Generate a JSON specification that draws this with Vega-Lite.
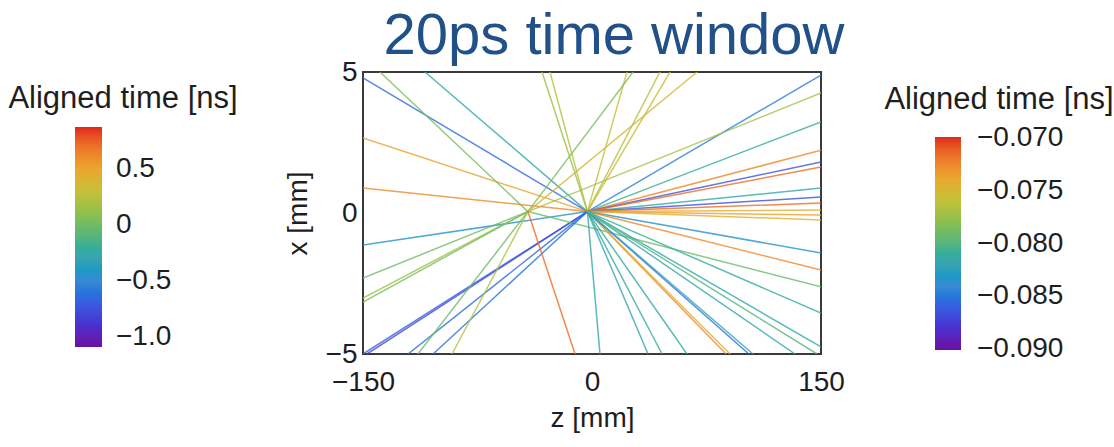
{
  "$schema": "https://vega.github.io/schema/vega-lite/v6.json",
  "width": 458,
  "height": 282,
  "autosize": {"type": "none"},
  "padding": {"left": 363, "top": 72, "right": 293, "bottom": 93},
  "background": "white",
  "config": {
    "view": {"stroke": "#3a3a3a", "strokeWidth": 2},
    "font": "Liberation Sans"
  },
  "title": {
    "text": "20ps time window",
    "fontSize": 58,
    "fontWeight": "normal",
    "color": "#22518a",
    "font": "Liberation Sans",
    "anchor": "middle",
    "dx": 22,
    "offset": 0,
    "dy": 8
  },
  "datasets": {
    "tracks": [
      {"id":1,"z":-3,"x":0.05,"t":-0.0855},{"id":1,"z":-150,"x":4.79,"t":-0.0855},
      {"id":2,"z":-3,"x":0.05,"t":-0.0735},{"id":2,"z":-150,"x":2.66,"t":-0.0735},
      {"id":3,"z":-3,"x":0.05,"t":-0.0725},{"id":3,"z":-150,"x":0.887,"t":-0.0725},
      {"id":4,"z":-3,"x":0.05,"t":-0.0835},{"id":4,"z":-150,"x":-1.135,"t":-0.0835},
      {"id":5,"z":-42,"x":0.05,"t":-0.079},{"id":5,"z":-150,"x":-2.305,"t":-0.079},
      {"id":6,"z":-42,"x":0.05,"t":-0.0775},{"id":6,"z":-150,"x":-3.014,"t":-0.0775},
      {"id":7,"z":-42,"x":0.05,"t":-0.0785},{"id":7,"z":-150,"x":-3.156,"t":-0.0785},
      {"id":8,"z":-3,"x":0.05,"t":-0.086},{"id":8,"z":-150,"x":-5,"t":-0.086},
      {"id":9,"z":-3,"x":0.05,"t":-0.087},{"id":9,"z":-147.4,"x":-5,"t":-0.087},
      {"id":10,"z":-42,"x":0.05,"t":-0.0785},{"id":10,"z":-138.9,"x":5,"t":-0.0785},
      {"id":11,"z":-3,"x":0.05,"t":-0.0815},{"id":11,"z":-109.4,"x":5,"t":-0.0815},
      {"id":12,"z":-3,"x":0.05,"t":-0.0775},{"id":12,"z":-32.75,"x":5,"t":-0.0775},
      {"id":13,"z":-3,"x":0.05,"t":-0.0765},{"id":13,"z":-27.5,"x":5,"t":-0.0765},
      {"id":14,"z":-3,"x":0.05,"t":-0.076},{"id":14,"z":22.9,"x":5,"t":-0.076},
      {"id":15,"z":-42,"x":0.05,"t":-0.0785},{"id":15,"z":26.9,"x":5,"t":-0.0785},
      {"id":16,"z":-3,"x":0.05,"t":-0.0765},{"id":16,"z":44.5,"x":5,"t":-0.0765},
      {"id":17,"z":-3,"x":0.05,"t":-0.0755},{"id":17,"z":51.1,"x":5,"t":-0.0755},
      {"id":18,"z":-42,"x":0.05,"t":-0.075},{"id":18,"z":68.8,"x":5,"t":-0.075},
      {"id":19,"z":-3,"x":0.05,"t":-0.0845},{"id":19,"z":150,"x":4.89,"t":-0.0845},
      {"id":20,"z":-42,"x":0.05,"t":-0.077},{"id":20,"z":150,"x":4.26,"t":-0.077},
      {"id":21,"z":-3,"x":0.05,"t":-0.081},{"id":21,"z":150,"x":3.23,"t":-0.081},
      {"id":22,"z":-3,"x":0.05,"t":-0.0725},{"id":22,"z":150,"x":2.23,"t":-0.0725},
      {"id":23,"z":-3,"x":0.05,"t":-0.0865},{"id":23,"z":150,"x":1.81,"t":-0.0865},
      {"id":24,"z":-3,"x":0.05,"t":-0.0715},{"id":24,"z":150,"x":1.63,"t":-0.0715},
      {"id":25,"z":-3,"x":0.05,"t":-0.0815},{"id":25,"z":150,"x":0.89,"t":-0.0815},
      {"id":26,"z":-3,"x":0.05,"t":-0.0865},{"id":26,"z":150,"x":0.57,"t":-0.0865},
      {"id":27,"z":-3,"x":0.05,"t":-0.0715},{"id":27,"z":150,"x":0.355,"t":-0.0715},
      {"id":28,"z":-3,"x":0.05,"t":-0.074},{"id":28,"z":150,"x":0.106,"t":-0.074},
      {"id":29,"z":-3,"x":0.05,"t":-0.0735},{"id":29,"z":150,"x":-0.071,"t":-0.0735},
      {"id":30,"z":-3,"x":0.05,"t":-0.0745},{"id":30,"z":150,"x":-0.248,"t":-0.0745},
      {"id":31,"z":-3,"x":0.05,"t":-0.0835},{"id":31,"z":150,"x":-1.418,"t":-0.0835},
      {"id":32,"z":-3,"x":0.05,"t":-0.0725},{"id":32,"z":150,"x":-2.02,"t":-0.0725},
      {"id":33,"z":-42,"x":0.05,"t":-0.079},{"id":33,"z":150,"x":-2.62,"t":-0.079},
      {"id":34,"z":-3,"x":0.05,"t":-0.081},{"id":34,"z":150,"x":-3.55,"t":-0.081},
      {"id":35,"z":-3,"x":0.05,"t":-0.0815},{"id":35,"z":150,"x":-4.75,"t":-0.0815},
      {"id":36,"z":-3,"x":0.05,"t":-0.0855},{"id":36,"z":-120.5,"x":-5,"t":-0.0855},
      {"id":37,"z":-42,"x":0.05,"t":-0.079},{"id":37,"z":-114.0,"x":-5,"t":-0.079},
      {"id":38,"z":-3,"x":0.05,"t":-0.085},{"id":38,"z":-104.1,"x":-5,"t":-0.085},
      {"id":39,"z":-42,"x":0.05,"t":-0.0765},{"id":39,"z":-91.7,"x":-5,"t":-0.0765},
      {"id":40,"z":-42,"x":0.05,"t":-0.0715},{"id":40,"z":-11.1,"x":-5,"t":-0.0715},
      {"id":41,"z":-3,"x":0.05,"t":-0.0815},{"id":41,"z":5.24,"x":-5,"t":-0.0815},
      {"id":42,"z":-3,"x":0.05,"t":-0.082},{"id":42,"z":36.7,"x":-5,"t":-0.082},
      {"id":43,"z":-3,"x":0.05,"t":-0.081},{"id":43,"z":45.9,"x":-5,"t":-0.081},
      {"id":44,"z":-3,"x":0.05,"t":-0.0815},{"id":44,"z":62.2,"x":-5,"t":-0.0815},
      {"id":45,"z":-3,"x":0.05,"t":-0.0725},{"id":45,"z":87.8,"x":-5,"t":-0.0725},
      {"id":46,"z":-3,"x":0.05,"t":-0.0745},{"id":46,"z":90.4,"x":-5,"t":-0.0745},
      {"id":47,"z":-3,"x":0.05,"t":-0.085},{"id":47,"z":102.8,"x":-5,"t":-0.085},
      {"id":48,"z":-3,"x":0.05,"t":-0.082},{"id":48,"z":105.5,"x":-5,"t":-0.082},
      {"id":49,"z":-3,"x":0.05,"t":-0.0815},{"id":49,"z":133.0,"x":-5,"t":-0.0815},
      {"id":50,"z":-3,"x":0.05,"t":-0.080},{"id":50,"z":147.4,"x":-5,"t":-0.080}
    ],
    "widerange": [{"a": -1.09}, {"a": 0.88}]
  },
  "layer": [
    {
      "data": {"name": "tracks"},
      "mark": {"type": "line", "strokeWidth": 1.5, "opacity": 1, "strokeOpacity": 0.8, "clip": true, "strokeCap": "round"},
      "encoding": {
        "x": {
          "field": "z", "type": "quantitative",
          "scale": {"domain": [-150, 150], "nice": false, "zero": false},
          "axis": {
            "values": [-150, 0, 150], "title": "z [mm]", "grid": false, "ticks": false, "domain": false, "labelFlush": false,
            "labelFontSize": 28, "labelColor": "#1e1e1e", "labelPadding": 14, "labelFont": "Liberation Sans",
            "titleFontSize": 28, "titleFontWeight": "normal", "titleColor": "#1e1e1e", "titlePadding": 8, "titleFont": "Liberation Sans"
          }
        },
        "y": {
          "field": "x", "type": "quantitative",
          "scale": {"domain": [-5, 5], "nice": false, "zero": false},
          "axis": {
            "values": [-5, 0, 5], "title": "x [mm]", "grid": false, "ticks": false, "domain": false, "labelFlush": false,
            "labelFontSize": 28, "labelColor": "#1e1e1e", "labelPadding": 6, "labelFont": "Liberation Sans",
            "titleFontSize": 28, "titleFontWeight": "normal", "titleColor": "#1e1e1e", "titlePadding": 13, "titleFont": "Liberation Sans"
          }
        },
        "detail": {"field": "id", "type": "nominal"},
        "order": {"field": "z", "type": "quantitative"},
        "color": {
          "field": "t", "type": "quantitative",
          "scale": {
            "domain": [-0.0901, -0.0699],
            "range": ["#6a0fa0","#4b2fd0","#3a5ce0","#3a8ad2","#3aa3b2","#58b47e","#8cbf4f","#c2c13a","#e9a932","#ee7a2a","#e0271e"]
          },
          "legend": {
            "title": "Aligned time [ns]",
            "orient": "none",
            "legendX": 521,
            "legendY": 13,
            "padding": 0,
            "direction": "vertical",
            "gradientLength": 213,
            "gradientThickness": 26,
            "gradientStrokeWidth": 0,
            "values": [-0.07, -0.075, -0.08, -0.085, -0.09],
            "format": ".3f",
            "labelFontSize": 28,
            "labelColor": "#1e1e1e",
            "labelOffset": 16,
            "labelFont": "Liberation Sans",
            "titleFontSize": 31,
            "titleFontWeight": "normal",
            "titleColor": "#1e1e1e",
            "titleFont": "Liberation Sans",
            "titlePadding": 21,
            "titleLimit": 400,
            "titleAnchor": "middle",
            "titleAlign": "center"
          }
        }
      }
    },
    {
      "data": {"name": "widerange"},
      "mark": {"type": "point", "size": 0, "strokeWidth": 0, "opacity": 1},
      "encoding": {
        "color": {
          "field": "a", "type": "quantitative",
          "scale": {
            "domain": [-1.09, 0.88],
            "range": ["#6a0fa0","#4b2fd0","#3a5ce0","#3a8ad2","#3aa3b2","#58b47e","#8cbf4f","#c2c13a","#e9a932","#ee7a2a","#e0271e"]
          },
          "legend": {
            "title": "Aligned time [ns]",
            "orient": "none",
            "legendX": -355,
            "legendY": 12,
            "padding": 0,
            "direction": "vertical",
            "gradientLength": 220,
            "gradientThickness": 27,
            "gradientStrokeWidth": 0,
            "values": [0.5, 0, -0.5, -1],
            "format": ".1~f",
            "labelExpr": "datum.value == -1 ? '\u22121.0' : datum.label",
            "labelFontSize": 28,
            "labelColor": "#1e1e1e",
            "labelOffset": 14,
            "labelFont": "Liberation Sans",
            "titleFontSize": 31,
            "titleFontWeight": "normal",
            "titleColor": "#1e1e1e",
            "titleFont": "Liberation Sans",
            "titlePadding": 12,
            "titleLimit": 400,
            "titleAnchor": "middle",
            "titleAlign": "center"
          }
        }
      }
    }
  ],
  "resolve": {"scale": {"color": "independent"}, "legend": {"color": "independent"}}
}
